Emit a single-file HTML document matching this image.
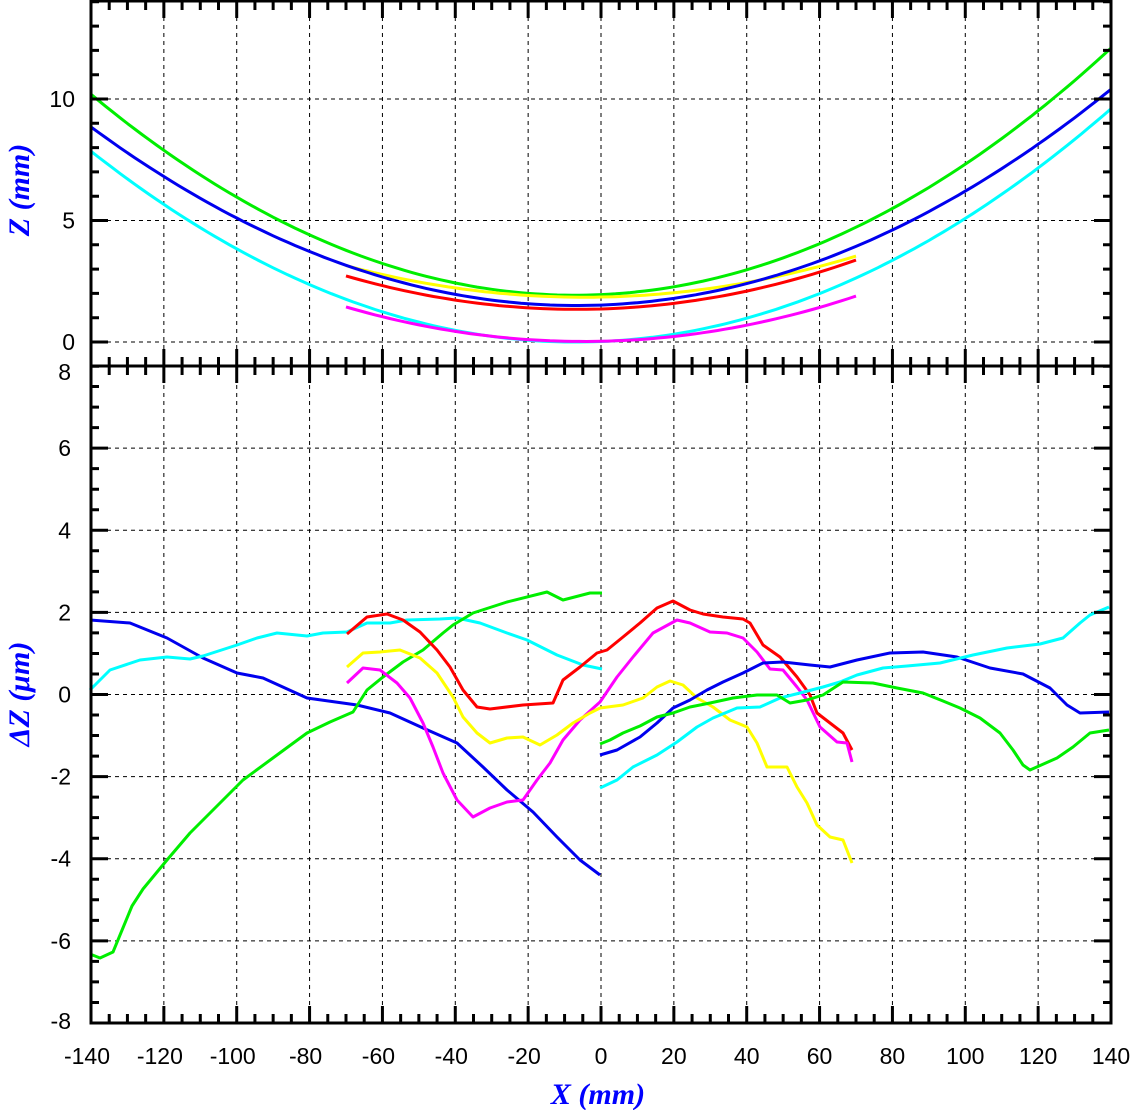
<!DOCTYPE html>
<html><head><meta charset="utf-8"><style>
body{margin:0;background:#fff}
svg{display:block}
text{font-family:"Liberation Sans",sans-serif;font-size:23px;fill:#000}
.t{font-family:"Liberation Serif",serif;font-style:italic;font-weight:bold;fill:#0000ff;font-size:30px}
</style></head><body>
<svg id="s" width="1133" height="1110" xmlns="http://www.w3.org/2000/svg"></svg>
<script>
const s=document.getElementById('s');let h='';
const X0=91,X1=1111,px=x=>601+x*1020/280;
const T0=1,T1=366,zy=z=>342-z*24.3;
const B0=366,B1=1023,dy=d=>694.5-d*41.06;
for(let x=-120;x<=120;x+=20){const p=px(x);h+=`<line x1="${p}" y1="${T0}" x2="${p}" y2="${B1}" stroke="#000" stroke-width="1" stroke-dasharray="4,4"/>`;}
[0,5,10].forEach(z=>h+=`<line x1="${X0}" y1="${zy(z)}" x2="${X1}" y2="${zy(z)}" stroke="#000" stroke-dasharray="4,4"/>`);
for(let d=-6;d<=6;d+=2)h+=`<line x1="${X0}" y1="${dy(d)}" x2="${X1}" y2="${dy(d)}" stroke="#000" stroke-dasharray="4,4"/>`;
function par(c,b,a,x0,x1,col){let p=[];for(let x=x0;x<=x1;x+=2)p.push(px(x).toFixed(1)+','+zy(c+b*x+a*x*x).toFixed(1));h+=`<polyline points="${p.join(' ')}" fill="none" stroke="${col}" stroke-width="3"/>`;}
par(0.02,0.00625,4.44e-4,-140,140,'#00ffff');
par(1.95,0.00679,4.69e-4,-140,140,'#00ee00');
par(1.85,0.0028,3.04e-4,-70,70,'#ffff00');
par(1.36,0.00464,3.44e-4,-70,70,'#ff0000');
par(0.03,0.0032,3.34e-4,-70,70,'#ff00ff');
par(1.52,0.00554,4.135e-4,-140,140,'#0000ee');
function pl(pts,col){h+=`<polyline points="${pts}" fill="none" stroke="${col}" stroke-width="3" stroke-linejoin="round"/>`;}
pl("90,620 130,623 167,638 203,658 237,673 263,678 307,698 357,705 390,713 423,728 457,743 483,767 507,790 533,812 557,837 580,860 600,875",'#0000ee');
pl("90,690 110,670 140,660 167,657 190,659 203,656 237,645 257,638 277,633 307,636 323,633 347,632 367,623 390,623 407,620 440,619 457,618 480,623 507,633 527,640 557,655 583,665 602,669",'#00ffff');
pl("90,954 100,958 113,952 132,906 143,889 167,860 190,833 223,800 243,780 277,755 307,733 330,722 353,712 367,690 383,677 403,662 423,650 443,633 453,625 473,613 507,602 547,592 563,600 590,593 602,593",'#00ee00');
pl("347,634 367,617 387,614 403,620 420,632 437,650 450,667 463,690 477,707 490,709 523,705 553,703 563,680 580,667 597,653 607,650 623,637 640,623 657,608 673,601 690,610 703,614 723,617 743,619 750,623 763,645 780,657 797,677 810,695 817,713 830,723 843,733 852,750",'#ff0000');
pl("347,683 363,668 380,670 397,683 410,698 423,723 433,747 443,773 457,800 473,817 490,808 507,802 523,800 537,780 550,763 563,740 580,720 600,702 617,677 633,657 653,633 677,620 690,623 710,632 727,633 743,638 757,652 770,669 783,670 797,687 807,700 820,727 837,742 847,743 852,762",'#ff00ff');
pl("347,667 363,653 380,652 400,650 420,658 437,673 453,697 463,717 477,733 490,743 507,738 523,737 540,745 557,735 573,723 590,713 600,708 623,705 643,698 657,687 670,681 683,685 697,698 713,707 730,720 747,727 757,743 767,767 787,767 797,787 807,803 817,825 830,837 843,840 852,863",'#ffff00');
pl("600,755 617,750 640,737 657,723 673,708 690,700 707,690 723,682 743,673 763,663 783,662 810,665 830,667 857,660 890,653 923,652 957,657 990,668 1023,674 1050,688 1067,705 1080,713 1109,712",'#0000ee');
pl("600,788 617,780 633,767 657,755 677,742 697,727 713,718 737,708 760,707 780,698 800,693 823,687 840,682 857,675 883,668 907,666 940,663 973,655 1007,648 1040,644 1063,638 1080,623 1090,615 1109,607",'#00ffff');
pl("600,744 610,740 623,733 640,726 657,717 673,713 690,707 710,703 733,698 757,695 777,695 790,703 807,700 823,695 843,682 873,683 897,688 923,693 943,701 960,708 980,718 1000,733 1013,750 1023,765 1030,770 1057,758 1073,747 1090,733 1109,730",'#00ee00');
let tk='';
for(let x=-140;x<=140;x+=5){const p=px(x),L=(x%20==0)?17:9;
 tk+=`M${p},${T0}v${L}M${p},${T1}v${-L}M${p},${T1}v${L}M${p},${B1}v${-L}`;}
for(let z=-1;z<=14;z++){const y=zy(z),L=(z%5==0)?17:8;tk+=`M${X0},${y}h${L}M${X1},${y}h${-L}`;}
for(let d=-8;d<=8;d+=0.5){const y=dy(d),L=(d%2==0)?17:8;tk+=`M${X0},${y}h${L}M${X1},${y}h${-L}`;}
h+=`<path d="${tk}" stroke="#000" stroke-width="3" fill="none"/>`;
h+=`<rect x="${X0}" y="${T0}" width="${X1-X0}" height="${B1-T0}" fill="none" stroke="#000" stroke-width="3"/>`;
h+=`<line x1="${X0}" y1="${T1}" x2="${X1}" y2="${T1}" stroke="#000" stroke-width="3"/>`;
[[10,'10'],[5,'5'],[0,'0']].forEach(([z,t])=>h+=`<text x="75" y="${zy(z)+8}" text-anchor="end">${t}</text>`);
for(let d=-8;d<=8;d+=2){let y=dy(d)+8;if(d==8)y+=6;if(d==-8)y-=2;h+=`<text x="71" y="${y}" text-anchor="end">${d}</text>`;}
for(let x=-140;x<=140;x+=20)h+=`<text x="${px(x)-(x<0?4:0)}" y="1064" text-anchor="middle">${x}</text>`;
h+=`<text class="t" x="598" y="1104" text-anchor="middle">X (mm)</text>`;
h+=`<text class="t" transform="translate(29,190) rotate(-90)" text-anchor="middle">Z (mm)</text>`;
h+=`<text class="t" transform="translate(29,694) rotate(-90)" text-anchor="middle">ΔZ (μm)</text>`;
s.innerHTML=h;
</script>
</body></html>
